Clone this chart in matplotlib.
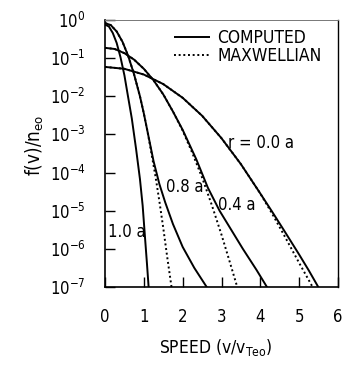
import matplotlib
matplotlib.use('Agg')
import matplotlib.pyplot as plt
import numpy as np

plt.rcParams['font.family'] = ['DejaVu Sans']
plt.rcParams['font.stretch'] = 'condensed'
plt.rcParams['mathtext.fontset'] = 'custom'
plt.rcParams['mathtext.rm'] = 'DejaVu Sans:stretch=condensed'
plt.rcParams['mathtext.it'] = 'DejaVu Sans:stretch=condensed'
plt.rcParams['mathtext.bf'] = 'DejaVu Sans:stretch=condensed:weight=bold'

# ---- data (speed v/vTeo, log10 of f(v)/n_eo) ----
v_c10 = [0, 0.1, 0.2, 0.3, 0.4, 0.5, 0.58, 0.69, 0.80, 0.90, 0.97, 1.03, 1.08, 1.13]
lg_c10 = [-0.12, -0.17, -0.34, -0.60, -0.98, -1.45, -1.93, -2.58, -3.38, -4.17, -4.87, -5.70, -6.38, -7.10]

v_c08 = [0, 0.15, 0.3, 0.45, 0.6, 0.75, 0.9, 1.0, 1.1, 1.25, 1.4, 1.55, 1.75, 2.0, 2.3, 2.65]
lg_c08 = [-0.08, -0.135, -0.30, -0.57, -0.95, -1.43, -2.00, -2.45, -2.95, -3.70, -4.30, -4.78, -5.35, -5.95, -6.50, -7.05]
v_m08 = [0, 0.15, 0.3, 0.45, 0.6, 0.75, 0.9, 1.0, 1.1, 1.2, 1.3, 1.4, 1.5, 1.6, 1.72]
lg_m08 = [-0.08, -0.135, -0.30, -0.57, -0.95, -1.43, -2.00, -2.45, -2.95, -3.52, -4.10, -4.75, -5.45, -6.20, -7.05]

v_c04 = [0, 0.25, 0.5, 0.75, 1.0, 1.25, 1.5, 1.75, 2.0, 2.35, 2.65, 2.95, 3.25, 3.55, 3.9, 4.2]
lg_c04 = [-0.73, -0.76, -0.87, -1.04, -1.28, -1.58, -1.95, -2.40, -2.88, -3.65, -4.40, -5.00, -5.50, -6.00, -6.55, -7.05]
v_m04 = [0, 0.25, 0.5, 0.75, 1.0, 1.25, 1.5, 1.75, 2.0, 2.25, 2.5, 2.75, 3.0, 3.2, 3.42]
lg_m04 = [-0.73, -0.76, -0.87, -1.04, -1.28, -1.58, -1.95, -2.40, -2.90, -3.49, -4.13, -4.85, -5.63, -6.30, -7.05]

v_c00 = [0, 0.5, 1.0, 1.5, 2.0, 2.5, 3.0, 3.5, 4.0, 4.3, 4.6, 5.0, 5.25, 5.52]
lg_c00 = [-1.23, -1.28, -1.43, -1.68, -2.04, -2.51, -3.10, -3.78, -4.55, -5.02, -5.50, -6.15, -6.57, -7.05]
v_m00 = [0, 0.5, 1.0, 1.5, 2.0, 2.5, 3.0, 3.5, 4.0, 4.3, 4.6, 5.0, 5.39]
lg_m00 = [-1.23, -1.28, -1.43, -1.68, -2.04, -2.51, -3.10, -3.78, -4.55, -5.07, -5.62, -6.37, -7.08]

x_ticks = [0, 1, 2, 3, 4, 5, 6]
y_exps = [0, -1, -2, -3, -4, -5, -6, -7]
legend_labels = ['COMPUTED', 'MAXWELLIAN']
curve_labels = ['r = 0.0 a', '0.4 a', '0.8 a', '1.0 a']

fig = plt.figure(figsize=(3.42, 3.68), dpi=100)
ax = fig.add_axes([105/342, 1-287/368, 233/342, 267/368])

solid = dict(color='black', lw=1.4, solid_capstyle='butt', solid_joinstyle='round')
dot = dict(color='black', lw=1.4, ls=(0, (1, 1.4)))

l1, = ax.plot(v_c00, 10**np.array(lg_c00), **solid)
l2, = ax.plot(v_m00, 10**np.array(lg_m00), **dot)
ax.plot(v_c04, 10**np.array(lg_c04), **solid)
ax.plot(v_m04, 10**np.array(lg_m04), **dot)
ax.plot(v_c08, 10**np.array(lg_c08), **solid)
ax.plot(v_m08, 10**np.array(lg_m08), **dot)
ax.plot(v_c10, 10**np.array(lg_c10), **solid)

ax.set_yscale('log')
ax.set_xlim(0, 6)
ax.set_ylim(1e-7, 1)
ax.set_yticks([10.0**e for e in y_exps])
ax.set_yticklabels(['$10^{%d}$' % e for e in y_exps])
ax.yaxis.set_minor_locator(matplotlib.ticker.NullLocator())
ax.set_xticks(x_ticks)
ax.set_xticklabels([str(t) for t in x_ticks])
ax.tick_params(axis='both', direction='in', length=7, width=1, labelsize=12)
ax.tick_params(axis='x', pad=15)
ax.tick_params(axis='y', pad=14)

for s in ['left', 'bottom']:
    ax.spines[s].set_linewidth(1.2)
ax.spines['right'].set_linewidth(1.0)
ax.spines['top'].set_linewidth(0.7)
ax.spines['top'].set_color('#777777')

ax.text(4.02, 10**-3.22, curve_labels[0], ha='center', va='center', fontsize=12)
ax.text(3.39, 10**-4.84, curve_labels[1], ha='center', va='center', fontsize=12)
ax.text(2.05, 10**-4.37, curve_labels[2], ha='center', va='center', fontsize=12)
ax.text(0.55, 10**-5.57, curve_labels[3], ha='center', va='center', fontsize=12)

ax.legend([l1, l2], legend_labels, loc='upper left',
          bbox_to_anchor=(174/342, 1-29/368), bbox_transform=fig.transFigure,
          frameon=False, handlelength=2.1, handletextpad=0.4,
          labelspacing=0.0, borderpad=0, borderaxespad=0, fontsize=12.5)

fig.text(35/342, 1-145/368, 'f(v)/n$_{\\mathrm{eo}}$', rotation=90,
         ha='center', va='center', fontsize=13.5)
fig.text(216/342, 1-347/368, 'SPEED (v/v$_{\\mathrm{Teo}}$)',
         ha='center', va='center', fontsize=12.5)

fig.savefig('out.png', dpi=100)
